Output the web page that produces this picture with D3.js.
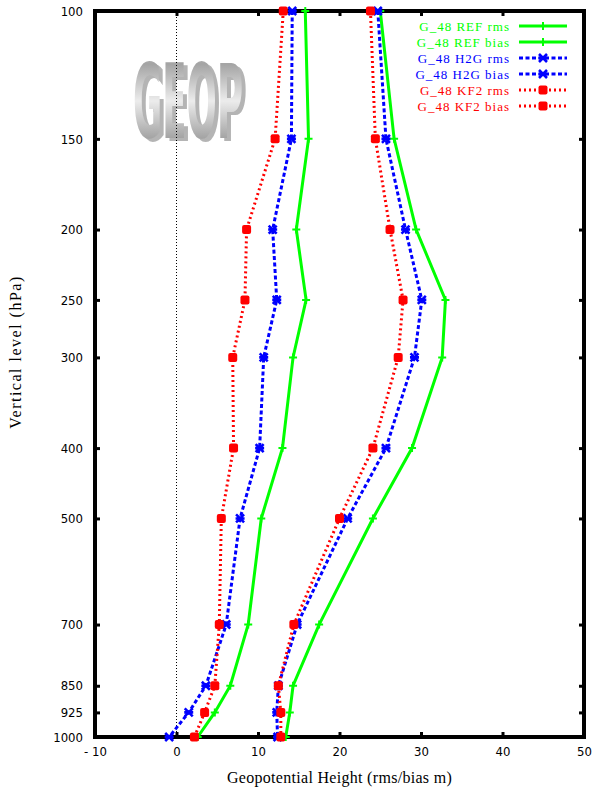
<!DOCTYPE html>
<html>
<head>
<meta charset="utf-8">
<script src="https://cdn.jsdelivr.net/npm/d3@7"></script>
<style>
  body { margin: 0; background: #fff; }
  svg { display: block; }
</style>
</head>
<body>
<div id="chart"></div>
<script>
// pressure levels (hPa)
const levels = [100, 150, 200, 250, 300, 400, 500, 700, 850, 925, 1000];
const xTicks = [-10, 0, 10, 20, 30, 40, 50];

// geopotential height scores (m)
const refRms  = [25.0, 26.7, 29.4, 33.0, 32.6, 28.9, 24.1, 17.5, 14.3, 13.9, 13.4];
const refBias = [15.8, 16.2, 14.7, 15.9, 14.3, 13.0, 10.4, 8.8, 6.6, 4.7, 2.6];
const h2gRms  = [24.7, 25.7, 28.1, 30.1, 29.2, 25.7, 21.0, 14.8, 12.5, 12.3, 12.4];
const h2gBias = [14.2, 14.1, 11.8, 12.3, 10.7, 10.2, 7.8, 6.1, 3.6, 1.5, -0.9];
const kf2Rms  = [23.8, 24.4, 26.2, 27.8, 27.2, 24.1, 20.0, 14.4, 12.5, 12.8, 12.8];
const kf2Bias = [13.1, 12.1, 8.6, 8.4, 6.9, 7.0, 5.5, 5.25, 4.7, 3.45, 2.2];

const seriesNames = ["G_48 REF rms", "G_48 REF bias", "G_48 H2G rms", "G_48 H2G bias", "G_48 KF2 rms", "G_48 KF2 bias"];

const width = 594, height = 789;
const margin = { top: 11, right: 10, bottom: 52, left: 95 };

const styles = {
  REF: { color: "#00ff00", dash: null, marker: "plus" },
  H2G: { color: "#0000ff", dash: "4,2.5", marker: "cross" },
  KF2: { color: "#ff0000", dash: "2,3", marker: "square" }
};

const series = [refRms, refBias, h2gRms, h2gBias, kf2Rms, kf2Bias].map((vals, i) => {
  const model = seriesNames[i].split(" ")[1];
  return { name: seriesNames[i], style: styles[model], points: vals.map((v, j) => ({ v: v, p: levels[j] })) };
});

const svg = d3.select("#chart").append("svg")
  .attr("width", width).attr("height", height);

const x = d3.scaleLinear().domain([-10, 50]).range([margin.left, width - margin.right]);
const y = d3.scaleLog().domain([100, 1000]).range([margin.top, height - margin.bottom]);

// logo (single text, shadow through a filter)
const defs = svg.append("defs");
const grad = defs.append("linearGradient").attr("id", "logoGrad")
  .attr("gradientUnits", "userSpaceOnUse")
  .attr("x1", 0).attr("y1", 64).attr("x2", 0).attr("y2", 101)
  .attr("spreadMethod", "reflect");
grad.append("stop").attr("offset", 0).attr("stop-color", "#a4a4a4");
grad.append("stop").attr("offset", 1).attr("stop-color", "#ececec");

const shadow = defs.append("filter").attr("id", "logoShadow")
  .attr("x", "-10%").attr("y", "-10%").attr("width", "130%").attr("height", "130%");
shadow.append("feOffset").attr("in", "SourceAlpha").attr("dx", 4).attr("dy", 3).attr("result", "off");
shadow.append("feFlood").attr("flood-color", "#b4b4b4").attr("result", "col");
shadow.append("feComposite").attr("in", "col").attr("in2", "off").attr("operator", "in").attr("result", "sh");
const merge = shadow.append("feMerge");
merge.append("feMergeNode").attr("in", "sh");
merge.append("feMergeNode").attr("in", "SourceGraphic");

svg.append("text")
  .attr("x", 133).attr("y", 138)
  .attr("font-family", "DejaVu Sans").attr("font-weight", "bold").attr("font-size", 103)
  .attr("textLength", 110).attr("lengthAdjust", "spacingAndGlyphs")
  .attr("fill", "url(#logoGrad)").attr("filter", "url(#logoShadow)")
  .text("GEOP");

// zero line
svg.append("line")
  .attr("x1", x(0)).attr("x2", x(0))
  .attr("y1", y(100)).attr("y2", y(1000))
  .attr("stroke", "#000").attr("stroke-width", 1).attr("stroke-dasharray", "1,2");

// axes
const tickFont = (g) => g.attr("font-family", "DejaVu Sans").attr("font-size", 13).attr("font-stretch", "condensed");

svg.append("g")
  .attr("transform", `translate(${margin.left},0)`)
  .call(d3.axisLeft(y).tickValues(levels).tickFormat(d3.format("d")).tickSizeInner(-5).tickSizeOuter(0).tickPadding(12))
  .call(g => g.select(".domain").remove())
  .call(tickFont)
  .call(g => g.selectAll(".tick line").attr("stroke-width", 3));

svg.append("g")
  .attr("transform", `translate(${width - margin.right},0)`)
  .call(d3.axisRight(y).tickValues(levels).tickFormat("").tickSizeInner(-5).tickSizeOuter(0))
  .call(g => g.select(".domain").remove())
  .call(g => g.selectAll(".tick line").attr("stroke-width", 3));

svg.append("g")
  .attr("transform", `translate(0,${height - margin.bottom})`)
  .call(d3.axisBottom(x).tickValues(xTicks).tickFormat(d => d < 0 ? "- " + Math.abs(d) : d).tickSizeInner(-5).tickSizeOuter(0).tickPadding(10))
  .call(g => g.select(".domain").remove())
  .call(tickFont)
  .call(g => g.selectAll(".tick line").attr("stroke-width", 3));

svg.append("g")
  .attr("transform", `translate(0,${margin.top})`)
  .call(d3.axisTop(x).tickValues(xTicks).tickFormat("").tickSizeInner(-5).tickSizeOuter(0))
  .call(g => g.select(".domain").remove())
  .call(g => g.selectAll(".tick line").attr("stroke-width", 3));

// frame
svg.append("rect")
  .attr("x", margin.left).attr("y", margin.top)
  .attr("width", width - margin.left - margin.right)
  .attr("height", height - margin.top - margin.bottom)
  .attr("fill", "none").attr("stroke", "#000").attr("stroke-width", 4);

// axis titles
svg.append("text")
  .attr("x", (margin.left + width - margin.right) / 2).attr("y", 783)
  .attr("text-anchor", "middle")
  .attr("font-family", "Liberation Serif").attr("font-size", 16)
  .attr("letter-spacing", 0.3)
  .text("Geopotential Height (rms/bias m)");

svg.append("text")
  .attr("transform", `translate(21,352) rotate(-90)`)
  .attr("text-anchor", "middle")
  .attr("font-family", "Liberation Serif").attr("font-size", 16)
  .attr("letter-spacing", 1.5)
  .text("Vertical level (hPa)");

// markers
function drawMarker(sel, style) {
  if (style.marker === "plus") {
    sel.append("path").attr("d", "M-4,0H4M0,-4V4")
      .attr("stroke", style.color).attr("stroke-width", 2).attr("fill", "none");
  } else if (style.marker === "cross") {
    sel.append("path").attr("d", "M-4,-4L4,4M-4,4L4,-4M-4.5,0H4.5")
      .attr("stroke", style.color).attr("stroke-width", 2.6).attr("fill", "none");
  } else {
    sel.append("rect").attr("x", -4.5).attr("y", -4.5).attr("width", 9).attr("height", 9).attr("rx", 2)
      .attr("fill", style.color);
  }
}

const line = d3.line().x(d => x(d.v)).y(d => y(d.p));

const gSeries = svg.append("g");
series.forEach(s => {
  const g = gSeries.append("g");
  g.append("path")
    .attr("d", line(s.points))
    .attr("fill", "none")
    .attr("stroke", s.style.color)
    .attr("stroke-width", 3)
    .attr("stroke-dasharray", s.style.dash);
  g.selectAll(".m").data(s.points).join("g")
    .attr("class", "m")
    .attr("transform", d => `translate(${x(d.v)},${y(d.p)})`)
    .each(function () { drawMarker(d3.select(this), s.style); });
});

// legend
const legend = svg.append("g").attr("transform", "translate(510,26)");
series.forEach((s, i) => {
  const row = legend.append("g").attr("transform", `translate(0,${i * 16})`);
  row.append("text")
    .attr("text-anchor", "end").attr("dy", "0.35em")
    .attr("font-family", "Liberation Serif").attr("font-size", 13)
    .attr("letter-spacing", 1)
    .attr("fill", s.style.color)
    .text(s.name);
  row.append("line")
    .attr("x1", 9).attr("x2", 57)
    .attr("stroke", s.style.color).attr("stroke-width", 3)
    .attr("stroke-dasharray", s.style.dash);
  drawMarker(row.append("g").attr("transform", "translate(33,0)"), s.style);
});
</script>
</body>
</html>
